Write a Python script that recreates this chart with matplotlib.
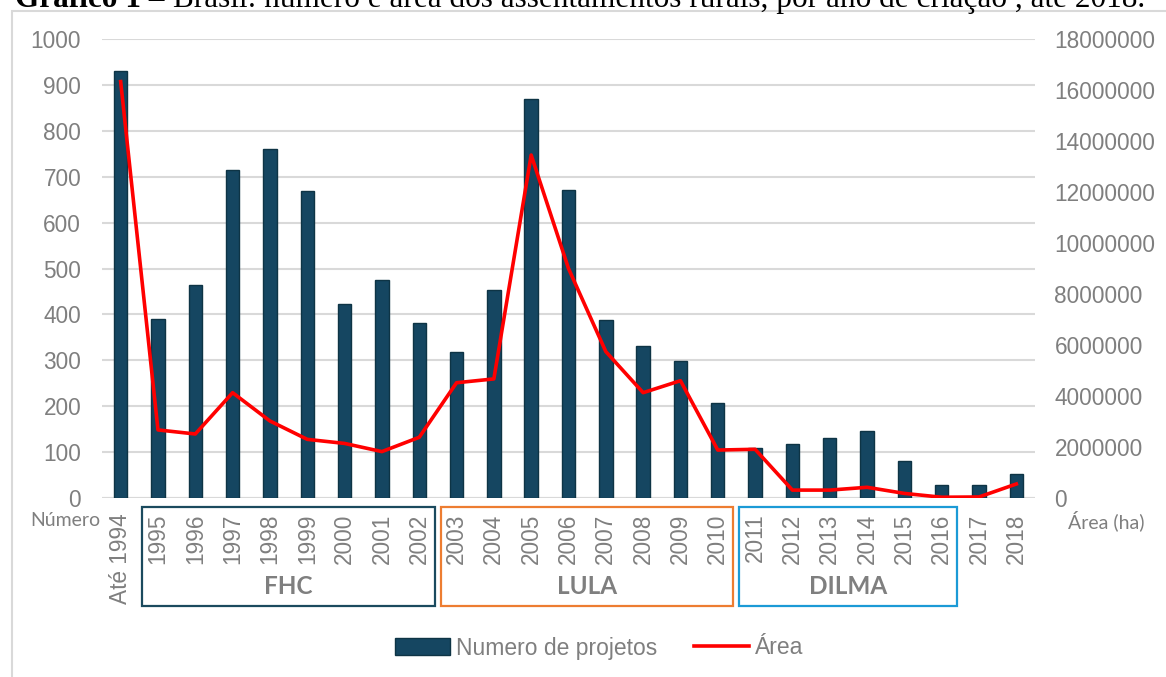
import matplotlib
matplotlib.use('Agg')
import matplotlib.pyplot as plt
import matplotlib.patches as mpatches
import matplotlib.transforms as mtransforms
from matplotlib.ticker import MultipleLocator, FuncFormatter

# dados
anos = ['Até 1994', '1995', '1996', '1997', '1998', '1999', '2000', '2001', '2002',
        '2003', '2004', '2005', '2006', '2007', '2008', '2009', '2010',
        '2011', '2012', '2013', '2014', '2015', '2016', '2017', '2018']
projetos = [931, 391, 464, 714, 760, 669, 423, 475, 381,
            319, 453, 869, 672, 388, 331, 298, 207,
            109, 118, 131, 145, 81, 28, 29, 52]
area_ha = [16330000, 2670000, 2510000, 4130000, 3020000, 2300000, 2140000, 1820000, 2380000,
           4520000, 4670000, 13450000, 9000000, 5740000, 4130000, 4600000, 1880000,
           1910000, 310000, 310000, 420000, 180000, 30000, 40000, 550000]

# governos: nome, primeiro ano, último ano, cor
governos = ['FHC', 'LULA', 'DILMA']
gov_inicio = ['1995', '2003', '2011']
gov_fim = ['2002', '2010', '2016']
gov_cores = ['#1B4A5E', '#ED7D31', '#1B9AD6']

titulo_negrito = 'Gráfico 1 –'
titulo = 'Brasil: número e área dos assentamentos rurais, por ano de criação , até 2018.'

W, H = 1166, 677
cinza = '#7F7F7F'

fig = plt.figure(figsize=(W / 100, H / 100), dpi=100)
ax = fig.add_axes([102 / W, 1 - 498 / H, 933 / W, 459 / H])
ax2 = ax.twinx()

x = list(range(len(anos)))
barras = ax.bar(x, projetos, width=0.36, color='#154661', edgecolor='#0E3445',
                linewidth=1, label='Numero de projetos', zorder=2)
linha, = ax2.plot(x, area_ha, color='#FF0000', linewidth=2.6, label='Área', zorder=3)

ax.set_xlim(-0.5, len(anos) - 0.5)
ax.set_ylim(0, 1000)
ax2.set_ylim(0, 18000000)
ax.yaxis.set_major_locator(MultipleLocator(100))
ax2.yaxis.set_major_locator(MultipleLocator(2000000))
ax2.yaxis.set_major_formatter(FuncFormatter(lambda v, p: '%d' % v))

ax.yaxis.grid(True, color='#D9D9D9', linewidth=1.5)
ax.set_axisbelow(True)
for a in (ax, ax2):
    for s in a.spines.values():
        s.set_visible(False)
ax.axhline(0, color='#D9D9D9', linewidth=1.5, zorder=1)

ax.set_xticks(x)
ax.set_xticklabels(anos, rotation=90, fontfamily='Liberation Sans', fontsize=16.3, color=cinza)
ax.tick_params(axis='x', length=0, pad=11)
ax.tick_params(axis='y', length=0, pad=15, labelsize=16.3, labelcolor=cinza)
ax2.tick_params(axis='y', length=0, pad=14, labelsize=16.3, labelcolor=cinza)
for lab in ax.get_yticklabels() + ax2.get_yticklabels():
    lab.set_fontfamily('Liberation Sans')

# títulos dos eixos
fig.text(100 / W, 1 - 520 / H, 'Número', ha='right', va='center',
         fontfamily='Lato', fontsize=14, color=cinza)
fig.text(1068 / W, 1 - 521 / H, 'Área (ha)', ha='left', va='center',
         fontfamily='Lato', fontsize=14, color=cinza)

# caixas dos governos
trans = mtransforms.blended_transform_factory(ax.transData, fig.transFigure)
y0, y1 = 1 - 606 / H, 1 - 507 / H
for nome, ini, fim, cor in zip(governos, gov_inicio, gov_fim, gov_cores):
    i0 = anos.index(ini) - 0.42
    i1 = anos.index(fim) + 0.42
    rect = mpatches.Rectangle((i0, y0), i1 - i0, y1 - y0, transform=trans,
                              fill=False, edgecolor=cor, linewidth=1.6, clip_on=False)
    fig.add_artist(rect)
    fig.text((i0 + i1) / 2, 1 - 587 / H, nome, transform=trans, ha='center', va='center',
             fontfamily='Lato', fontweight='bold', fontsize=17.5, color=cinza)

# legenda
fig.legend(handles=[barras, linha], loc='center', bbox_to_anchor=(599 / W, 1 - 648 / H),
           ncol=2, frameon=False, prop={'family': 'Liberation Sans', 'size': 16.5},
           labelcolor=cinza, handlelength=2.4, handletextpad=0.25, columnspacing=1.6)

# moldura do gráfico
fig.add_artist(mpatches.Rectangle((12 / W, -0.1), 1.2, 1.1 - 11 / H, transform=fig.transFigure,
                                  fill=False, edgecolor='#D9D9D9', linewidth=1.5))

# título (cortado no topo, como no original)
fs = 22.5
t1 = fig.text(15 / W, 1 - 7 / H, titulo_negrito, fontfamily='Liberation Serif',
              fontweight='bold', fontsize=fs, va='baseline')
fig.canvas.draw()
r = fig.canvas.get_renderer()
bb = t1.get_window_extent(r)
t2 = fig.text((bb.x1 + 9) / W, 1 - 7 / H, titulo, fontfamily='Liberation Serif',
              fontsize=fs, va='baseline')

fig.savefig('out.png', dpi=100)
